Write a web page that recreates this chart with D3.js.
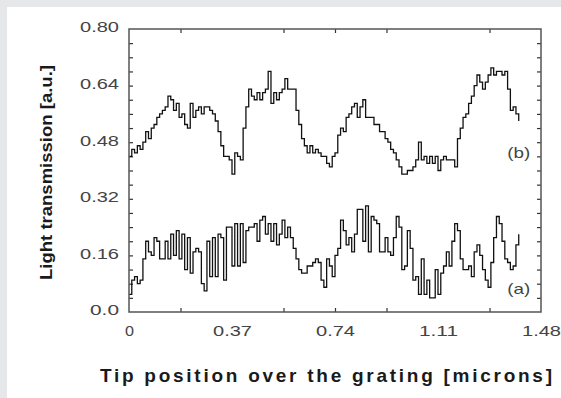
<!DOCTYPE html>
<html>
<head>
<meta charset="utf-8">
<script src="https://cdn.jsdelivr.net/npm/d3@7"></script>
<style>
  html, body { margin: 0; padding: 0; background: #e6e7e9; }
  svg { display: block; }
</style>
</head>
<body>
<svg id="chart"></svg>
<script>
const scanStep = 0.01;

const traceB = [
  0.44, 0.46, 0.45, 0.47, 0.46, 0.48, 0.51, 0.49, 0.52, 0.53,
  0.55, 0.56, 0.57, 0.58, 0.61, 0.60, 0.57, 0.59, 0.55, 0.56,
  0.53, 0.52, 0.59, 0.55, 0.57, 0.58, 0.56, 0.58, 0.58, 0.57,
  0.56, 0.54, 0.51, 0.47, 0.44, 0.44, 0.43, 0.39, 0.45, 0.44,
  0.43, 0.52, 0.58, 0.63, 0.61, 0.60, 0.62, 0.60, 0.62, 0.63,
  0.68, 0.59, 0.62, 0.60, 0.62, 0.63, 0.66, 0.63, 0.63, 0.63,
  0.57, 0.53, 0.49, 0.47, 0.45, 0.47, 0.45, 0.46, 0.45, 0.44,
  0.44, 0.42, 0.41, 0.44, 0.45, 0.50, 0.52, 0.51, 0.55, 0.56,
  0.58, 0.59, 0.55, 0.58, 0.60, 0.55, 0.55, 0.55, 0.53, 0.53,
  0.51, 0.51, 0.49, 0.48, 0.46, 0.45, 0.43, 0.41, 0.39, 0.39,
  0.40, 0.40, 0.41, 0.43, 0.48, 0.43, 0.44, 0.42, 0.44, 0.42,
  0.44, 0.40, 0.43, 0.44, 0.43, 0.43, 0.43, 0.41, 0.49, 0.52,
  0.55, 0.56, 0.59, 0.61, 0.64, 0.67, 0.65, 0.63, 0.65, 0.67,
  0.69, 0.67, 0.68, 0.68, 0.67, 0.68, 0.63, 0.57, 0.58, 0.56,
  0.54
];

const traceA = [
  0.05, 0.09, 0.10, 0.08, 0.09, 0.15, 0.20, 0.17, 0.16, 0.21,
  0.20, 0.15, 0.15, 0.20, 0.15, 0.22, 0.16, 0.23, 0.15, 0.22,
  0.12, 0.21, 0.11, 0.17, 0.18, 0.17, 0.08, 0.06, 0.20, 0.10,
  0.21, 0.10, 0.22, 0.21, 0.09, 0.24, 0.24, 0.13, 0.25, 0.13,
  0.25, 0.14, 0.23, 0.24, 0.24, 0.25, 0.20, 0.26, 0.27, 0.22,
  0.25, 0.20, 0.25, 0.19, 0.22, 0.26, 0.21, 0.24, 0.21, 0.18,
  0.15, 0.12, 0.11, 0.11, 0.13, 0.13, 0.14, 0.15, 0.14, 0.09,
  0.07, 0.15, 0.13, 0.10, 0.16, 0.18, 0.26, 0.23, 0.19, 0.21,
  0.17, 0.22, 0.29, 0.29, 0.20, 0.30, 0.17, 0.27, 0.26, 0.25,
  0.17, 0.17, 0.21, 0.17, 0.16, 0.21, 0.27, 0.24, 0.12, 0.13,
  0.23, 0.18, 0.09, 0.10, 0.05, 0.15, 0.05, 0.09, 0.04, 0.04,
  0.12, 0.05, 0.11, 0.13, 0.17, 0.13, 0.20, 0.25, 0.23, 0.15,
  0.12, 0.12, 0.13, 0.10, 0.17, 0.19, 0.16, 0.12, 0.09, 0.07,
  0.14, 0.21, 0.27, 0.25, 0.20, 0.15, 0.14, 0.12, 0.13, 0.19,
  0.22
];

const xLabelTicks = [0, 0.37, 0.74, 1.11, 1.48];
const xMarkTicks = [0.185, 0.555, 0.74, 0.925, 1.295];
const yLabelTicks = [0, 0.16, 0.32, 0.48, 0.64, 0.80];
const yMarkTicks = [0.04, 0.08, 0.12, 0.16, 0.20, 0.24, 0.28, 0.32, 0.36, 0.40,
                    0.44, 0.48, 0.52, 0.56, 0.60, 0.64, 0.68, 0.72, 0.76];

const curveLabels = [
  {name: "(b)", x: 1.4, y: 0.435},
  {name: "(a)", x: 1.4, y: 0.05}
];

const W = 561, H = 398;
const margin = {top: 29, right: 20, bottom: 86, left: 129};
const width = W - margin.left - margin.right;
const height = H - margin.top - margin.bottom;

const svg = d3.select("#chart").attr("width", W).attr("height", H);

svg.append("rect").attr("width", W).attr("height", H).attr("fill", "#e6e7e9");
svg.append("rect").attr("x", 7).attr("y", 7).attr("width", W - 7).attr("height", H - 7).attr("fill", "#fff");

const g = svg.append("g").attr("transform", "translate(" + margin.left + "," + margin.top + ")");

const x = d3.scaleLinear().domain([0, 1.48]).range([0, width]);
const y = d3.scaleLinear().domain([0, 0.8]).range([height, 0]);

const labelFont = "'Liberation Sans', Arial, sans-serif";

// tick marks, inward on all four sides
function marks(axis) {
  return axis.tickFormat("").tickSizeOuter(0);
}
g.append("g").attr("transform", "translate(0," + height + ")")
  .call(marks(d3.axisBottom(x).tickValues(xMarkTicks).tickSize(-4)));
g.append("g")
  .call(marks(d3.axisTop(x).tickValues(xMarkTicks).tickSize(-4)));
g.append("g")
  .call(marks(d3.axisLeft(y).tickValues(yMarkTicks).tickSize(-4)));
g.append("g").attr("transform", "translate(" + width + ",0)")
  .call(marks(d3.axisRight(y).tickValues(yMarkTicks).tickSize(-4)));
g.selectAll(".domain").remove();
g.selectAll(".tick line").attr("stroke", "#333").attr("stroke-width", 1.2);

// tick labels
const xAxis = g.append("g").attr("transform", "translate(0," + height + ")")
  .call(d3.axisBottom(x).tickValues(xLabelTicks).tickSize(0).tickPadding(13)
    .tickFormat(d => d === 0 ? "0" : d.toFixed(2)));
const yAxis = g.append("g")
  .call(d3.axisLeft(y).tickValues(yLabelTicks).tickSize(0).tickPadding(10)
    .tickFormat(d => d === 0 ? "0.0" : d.toFixed(2)));
[xAxis, yAxis].forEach(a => {
  a.select(".domain").remove();
  a.selectAll("text")
    .attr("font-family", labelFont)
    .attr("font-size", 14)
    .attr("fill", "#444")
    .attr("lengthAdjust", "spacingAndGlyphs")
    .attr("textLength", function () { return this.textContent.length * 10 - 1; });
});
yAxis.selectAll("text").attr("dy", "0.2em");
xAxis.selectAll("text").attr("dy", "0.75em");

// curves
const line = d3.line()
  .curve(d3.curveStepAfter)
  .x((d, i) => x(i * scanStep))
  .y(d => y(d));

[traceA, traceB].forEach(trace => {
  g.append("path")
    .datum(trace)
    .attr("fill", "none")
    .attr("stroke", "#111")
    .attr("stroke-width", 1.3)
    .attr("stroke-linejoin", "miter")
    .attr("d", line);
});

g.selectAll(".curve-label")
  .data(curveLabels)
  .enter()
  .append("text")
  .attr("class", "curve-label")
  .attr("x", d => x(d.x))
  .attr("y", d => y(d.y))
  .attr("font-family", labelFont)
  .attr("font-size", 15)
  .attr("fill", "#444")
  .attr("text-anchor", "middle")
  .attr("lengthAdjust", "spacingAndGlyphs")
  .attr("textLength", 23)
  .text(d => d.name);

// frame
g.append("rect")
  .attr("width", width)
  .attr("height", height)
  .attr("fill", "none")
  .attr("stroke", "#555")
  .attr("stroke-width", 1.5);

// axis titles
svg.append("text")
  .attr("x", 100)
  .attr("y", 382)
  .attr("font-family", labelFont)
  .attr("font-weight", "bold")
  .attr("font-size", 19)
  .attr("fill", "#1a1a1a")
  .attr("lengthAdjust", "spacing")
  .attr("textLength", 452)
  .text("Tip position over the grating [microns]");

svg.append("text")
  .attr("transform", "translate(52,172.5) rotate(-90)")
  .attr("text-anchor", "middle")
  .attr("font-family", labelFont)
  .attr("font-weight", "bold")
  .attr("font-size", 16)
  .attr("fill", "#1a1a1a")
  .attr("lengthAdjust", "spacingAndGlyphs")
  .attr("textLength", 215)
  .text("Light transmission [a.u.]");
</script>
</body>
</html>
